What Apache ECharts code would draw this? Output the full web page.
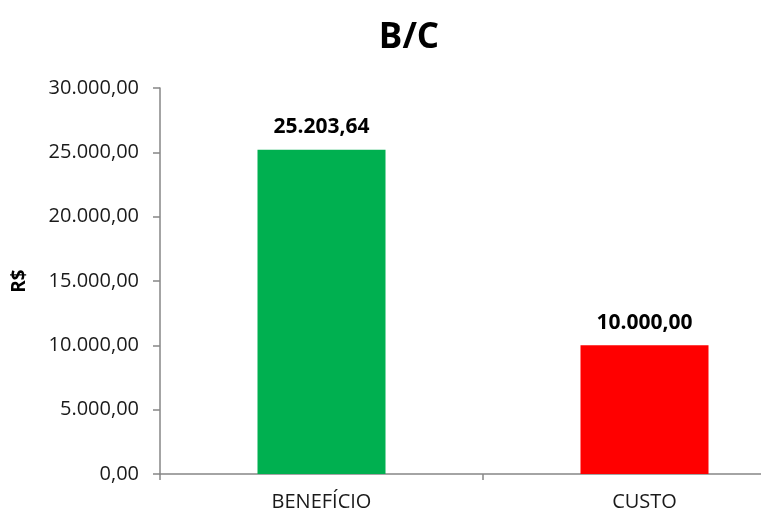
<!DOCTYPE html>
<html>
<head>
<meta charset="utf-8">
<script src="https://cdn.jsdelivr.net/npm/echarts@6/dist/echarts.min.js"></script>
<style>
  html, body { margin: 0; padding: 0; background: #fff; }
  #chart { width: 761px; height: 513px; }
</style>
</head>
<body>
<div id="chart"></div>
<script>
// Benefício x Custo, em R$
const categories = ['BENEFÍCIO', 'CUSTO'];
const values = [25203.64, 10000.00];
const barColors = ['#00B050', '#FF0000'];
const yTicks = { min: 0, max: 30000, interval: 5000 };

// Formato brasileiro: milhar com ponto, decimais com vírgula
function fmtBR(v) {
  const parts = Number(v).toFixed(2).split('.');
  const int = parts[0].replace(/\B(?=(\d{3})+(?!\d))/g, '.');
  return int + ',' + parts[1];
}

const FONT = '"Open Sans", "DejaVu Sans", sans-serif';
const chart = echarts.init(document.getElementById('chart'), null, { renderer: 'canvas' });

chart.setOption({
  animation: false,
  backgroundColor: '#ffffff',
  title: {
    text: 'B/C',
    left: 404,
    top: 16,
    textAlign: 'center',
    textStyle: { fontFamily: FONT, fontSize: 35, fontWeight: 'bold', color: '#000' }
  },
  // o eixo X continua além da borda direita
  grid: { left: 160, top: 88, bottom: 39, right: -45, containLabel: false, outerBoundsMode: 'none' },
  xAxis: {
    type: 'category',
    data: categories,
    axisLine: { lineStyle: { color: '#868686', width: 1.5 } },
    axisTick: { show: true, alignWithLabel: false, length: 6, lineStyle: { color: '#868686', width: 1.5 } },
    axisLabel: { margin: 18, fontFamily: FONT, fontSize: 20, color: '#1a1a1a' },
    splitLine: { show: false }
  },
  yAxis: {
    type: 'value',
    min: yTicks.min,
    max: yTicks.max,
    interval: yTicks.interval,
    name: 'R$',
    nameLocation: 'middle',
    nameGap: 131,
    nameRotate: 90,
    nameTextStyle: { fontFamily: FONT, fontSize: 19, fontWeight: 'bold', color: '#000' },
    axisLine: { show: true, lineStyle: { color: '#868686', width: 1.5 } },
    axisTick: { show: true, length: 7, lineStyle: { color: '#868686', width: 1.5 } },
    axisLabel: { margin: 21, fontFamily: FONT, fontSize: 20, color: '#1a1a1a', formatter: fmtBR },
    splitLine: { show: false }
  },
  series: [{
    type: 'bar',
    data: values.map((v, i) => ({ value: v, itemStyle: { color: barColors[i] } })),
    barWidth: 128,
    label: {
      show: true,
      position: 'top',
      distance: 12,
      fontFamily: FONT,
      fontSize: 21,
      fontWeight: 'bold',
      color: '#000',
      formatter: p => fmtBR(p.value)
    }
  }]
});
</script>
</body>
</html>
